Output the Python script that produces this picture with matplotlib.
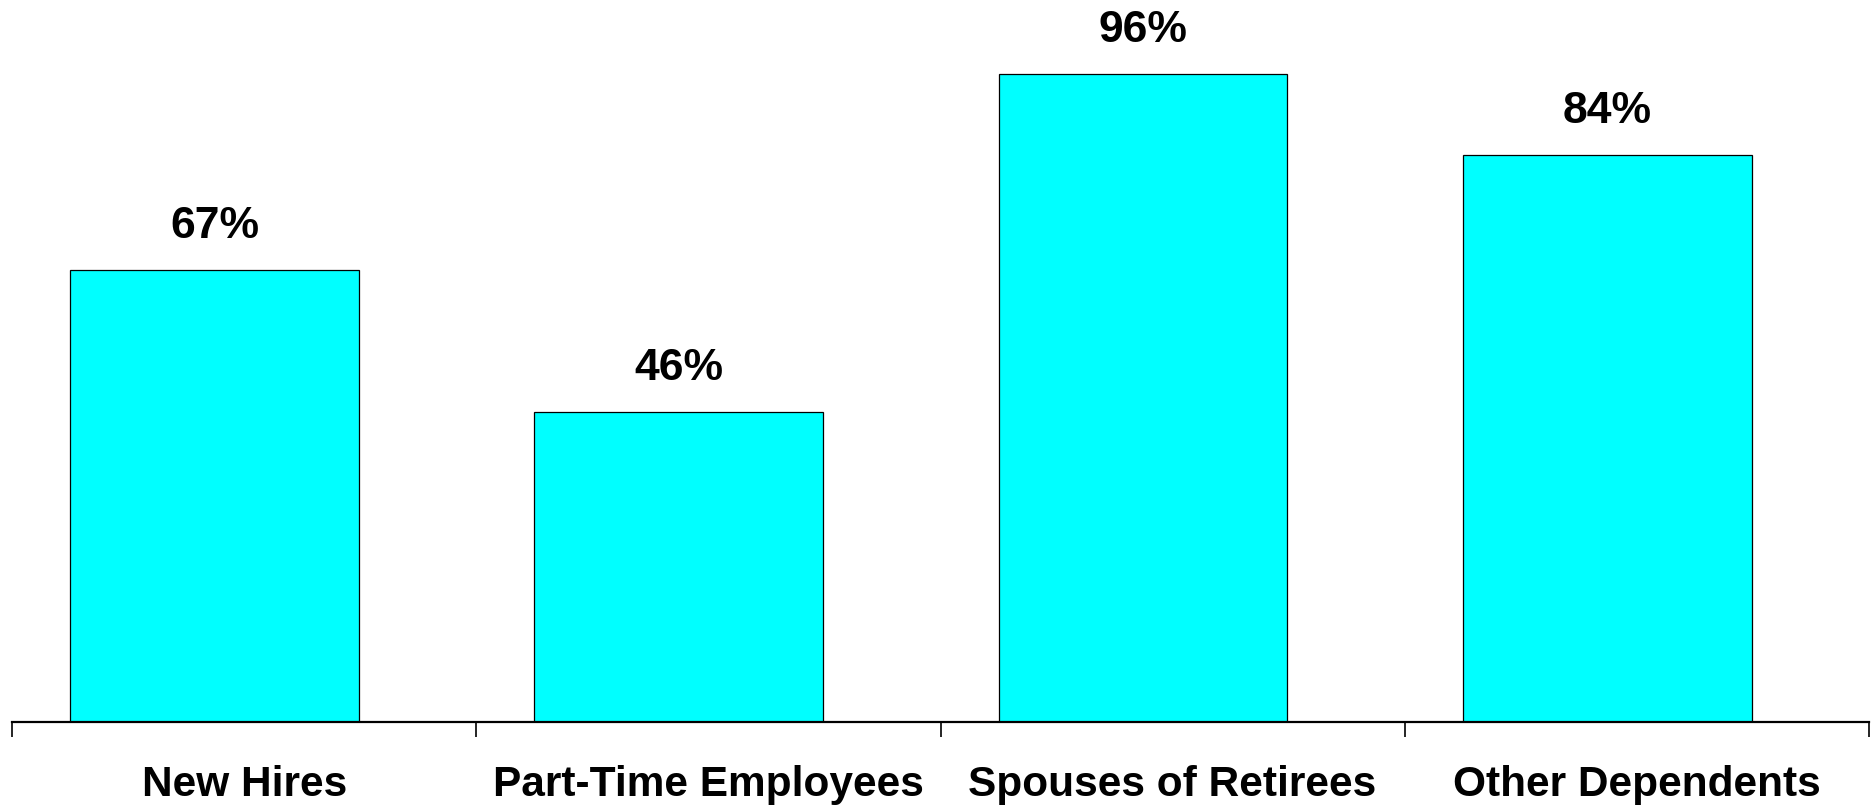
import matplotlib
matplotlib.use("Agg")
import matplotlib.pyplot as plt
import numpy as np

categories = ["New Hires", "Part-Time Employees", "Spouses of Retirees", "Other Dependents"]
values = [67, 46, 96, 84]

plt.rcParams['font.family'] = ['Liberation Sans', 'DejaVu Sans']

fig = plt.figure(figsize=(18.73, 8.08), dpi=100)
ax = fig.add_axes([12/1873, (808-722)/808, (1869-12)/1873, 722/808])

x = np.arange(len(categories))
offset = -0.064
bars = ax.bar(x + offset, values, width=0.622, color="#00FFFF", edgecolor="black", linewidth=0.9)

for xi, v in zip(x + offset, values):
    ax.annotate(f"{v}%", (xi, v), xytext=(0, 23), textcoords="offset points",
                ha="center", va="baseline", fontsize=32, fontweight="bold")

ax.set_xlim(-0.5, len(categories) - 0.5)
ax.set_ylim(0, 107)

for s in ["top", "right", "left"]:
    ax.spines[s].set_visible(False)
ax.spines["bottom"].set_linewidth(1.6)
ax.set_yticks([])

ax.set_xticks(np.arange(len(categories) + 1) - 0.5)
ax.set_xticklabels([])
ax.tick_params(axis="x", which="major", length=11, width=1.2, direction="out")
ax.set_xticks(x, minor=True)
ax.set_xticklabels(categories, minor=True, fontsize=30.5, fontweight="bold")
ax.tick_params(axis="x", which="minor", length=0, pad=31)

fig.savefig("out.png", dpi=100)
